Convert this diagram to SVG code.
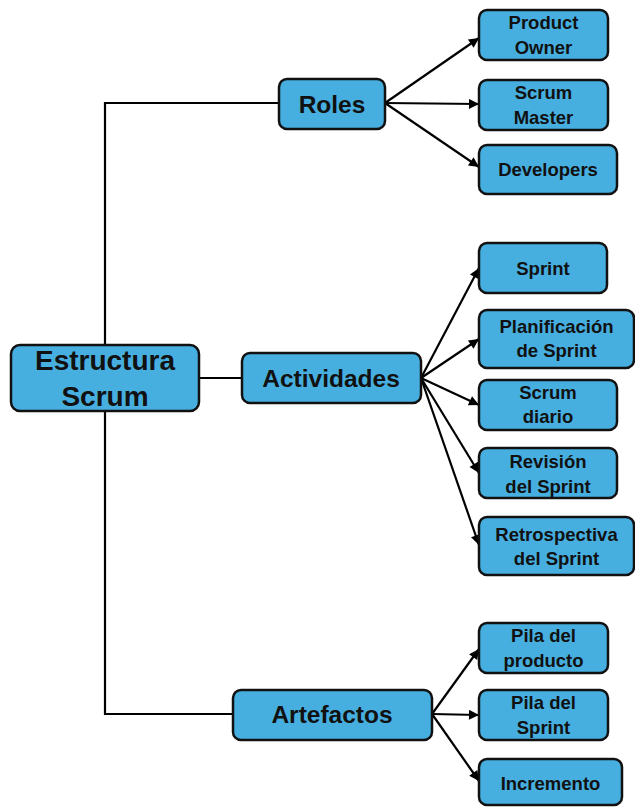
<svg xmlns="http://www.w3.org/2000/svg" width="635" height="807" viewBox="0 0 635 807">
  <style>
    .box { fill: #46AFE0; stroke: #111; stroke-width: 2.5; }
    .link { fill: none; stroke: #000; stroke-width: 2.2; }
    .arrow { fill: none; stroke: #000; stroke-width: 2.2; marker-end: url(#head); }
    text { font-family: "Liberation Sans", Arial, sans-serif; font-weight: bold; fill: #111; text-anchor: middle; }
    .t1 { font-size: 28px; }
    .t2 { font-size: 24.5px; }
    .t3 { font-size: 18.5px; }
  </style>
  <defs>
    <marker id="head" viewBox="0 0 10 10" refX="10" refY="5" markerWidth="12" markerHeight="10" markerUnits="userSpaceOnUse" orient="auto">
      <path d="M0,0 L10,5 L0,10 z" fill="#000"/>
    </marker>
  </defs>

  <!-- connectors -->
  <g id="connectors">
    <path class="link" d="M279,103 H105 V714 H233"/>
    <path class="link" d="M199,378 H242"/>
    <!-- Roles -->
    <line class="arrow" x1="385" y1="103" x2="479" y2="38"/>
    <line class="arrow" x1="385" y1="103" x2="479" y2="104"/>
    <line class="arrow" x1="385" y1="103" x2="479" y2="167"/>
    <!-- Actividades -->
    <line class="arrow" x1="421" y1="378" x2="479" y2="268"/>
    <line class="arrow" x1="421" y1="378" x2="479" y2="339"/>
    <line class="arrow" x1="421" y1="378" x2="479" y2="405"/>
    <line class="arrow" x1="421" y1="378" x2="479" y2="473"/>
    <line class="arrow" x1="421" y1="378" x2="479" y2="545"/>
    <!-- Artefactos -->
    <line class="arrow" x1="432" y1="714" x2="479" y2="649"/>
    <line class="arrow" x1="432" y1="714" x2="479" y2="715"/>
    <line class="arrow" x1="432" y1="714" x2="479" y2="781"/>
  </g>

  <g id="estructura">
    <rect class="box" x="11" y="345" width="188" height="66" rx="9"/>
    <text class="t1" x="105" y="370">Estructura</text>
    <text class="t1" x="105" y="406">Scrum</text>
  </g>

  <g id="roles">
    <rect class="box" x="279" y="79" width="106" height="50" rx="8"/>
    <text class="t2" x="332" y="112.5">Roles</text>
  </g>
  <g id="actividades">
    <rect class="box" x="242" y="353" width="179" height="50" rx="8"/>
    <text class="t2" x="331" y="387">Actividades</text>
  </g>
  <g id="artefactos">
    <rect class="box" x="233" y="690" width="199" height="50" rx="8"/>
    <text class="t2" x="332" y="723">Artefactos</text>
  </g>

  <g id="product-owner">
    <rect class="box" x="479" y="10" width="129" height="50" rx="8"/>
    <text class="t3" x="543.5" y="29">Product</text>
    <text class="t3" x="543.5" y="54">Owner</text>
  </g>
  <g id="scrum-master">
    <rect class="box" x="479" y="80" width="129" height="50" rx="8"/>
    <text class="t3" x="543.5" y="98.5">Scrum</text>
    <text class="t3" x="543.5" y="123.5">Master</text>
  </g>
  <g id="developers">
    <rect class="box" x="479" y="145" width="138" height="49" rx="8"/>
    <text class="t3" x="548" y="175.5">Developers</text>
  </g>

  <g id="sprint">
    <rect class="box" x="479" y="243" width="128" height="50" rx="8"/>
    <text class="t3" x="543" y="274.5">Sprint</text>
  </g>
  <g id="planificacion">
    <rect class="box" x="479" y="310" width="155" height="58" rx="8"/>
    <text class="t3" x="556.5" y="332.5">Planificación</text>
    <text class="t3" x="556.5" y="356.5">de Sprint</text>
  </g>
  <g id="scrum-diario">
    <rect class="box" x="479" y="380" width="138" height="50" rx="8"/>
    <text class="t3" x="548" y="398.5">Scrum</text>
    <text class="t3" x="548" y="422.5">diario</text>
  </g>
  <g id="revision">
    <rect class="box" x="479" y="448" width="138" height="50" rx="8"/>
    <text class="t3" x="548" y="467.5">Revisión</text>
    <text class="t3" x="548" y="492.5">del Sprint</text>
  </g>
  <g id="retrospectiva">
    <rect class="box" x="479" y="517" width="155" height="58" rx="8"/>
    <text class="t3" x="556.5" y="540.5">Retrospectiva</text>
    <text class="t3" x="556.5" y="564.5">del Sprint</text>
  </g>

  <g id="pila-producto">
    <rect class="box" x="479" y="623" width="129" height="50" rx="8"/>
    <text class="t3" x="543.5" y="641.5">Pila del</text>
    <text class="t3" x="543.5" y="666.5">producto</text>
  </g>
  <g id="pila-sprint">
    <rect class="box" x="479" y="690" width="129" height="50" rx="8"/>
    <text class="t3" x="543.5" y="708.5">Pila del</text>
    <text class="t3" x="543.5" y="733.5">Sprint</text>
  </g>
  <g id="incremento">
    <rect class="box" x="479" y="759" width="143" height="46" rx="8"/>
    <text class="t3" x="550.5" y="789.5">Incremento</text>
  </g>
</svg>
